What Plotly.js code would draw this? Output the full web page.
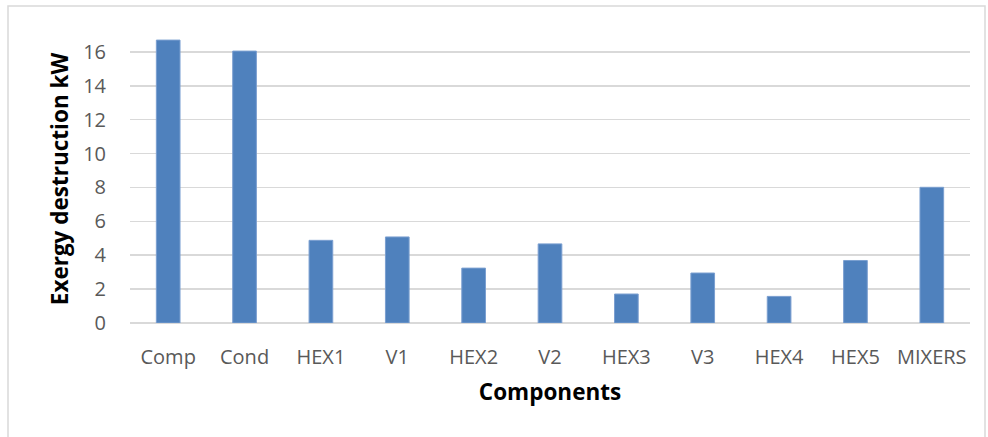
<!DOCTYPE html>
<html>
<head>
<meta charset="utf-8">
<script src="https://cdn.plot.ly/plotly-3.0.1.min.js"></script>
<style>
html,body{margin:0;padding:0;background:#fff;}
#chart{width:988px;height:437px;}
</style>
</head>
<body>
<div id="chart"></div>
<script>
const categories = ["Comp","Cond","HEX1","V1","HEX2","V2","HEX3","V3","HEX4","HEX5","MIXERS"];
const exergyDestruction = [16.7, 16.05, 4.88, 5.08, 3.24, 4.67, 1.71, 2.95, 1.57, 3.69, 8.01];
const yTicks = [0,2,4,6,8,10,12,14,16];

const FONT = "'Open Sans', Arial, sans-serif";

Plotly.newPlot('chart', [{
  type: 'bar',
  x: categories,
  y: exergyDestruction,
  marker: {color: '#4F81BD', line: {color: '#7B9FD0', width: 1}},
  hoverinfo: 'x+y'
}], {
  width: 988, height: 437,
  margin: {l: 130, r: 18, t: 35, b: 114},
  paper_bgcolor: '#ffffff',
  plot_bgcolor: '#ffffff',
  bargap: 0.69,
  showlegend: false,
  font: {family: FONT, color: '#595959', size: 20},
  xaxis: {
    type: 'category',
    tickfont: {family: FONT, size: 20, color: '#595959'},
    showgrid: false,
    showline: false,
    ticks: 'outside',
    ticklen: 16,
    tickcolor: 'rgba(0,0,0,0)',
    title: {text: 'Components', font: {family: FONT, size: 22.5, color: '#000000', weight: 'bold'}, standoff: 15}
  },
  yaxis: {
    range: [0, 17],
    tickvals: yTicks,
    ticktext: yTicks.map(String),
    tickfont: {family: FONT, size: 20, color: '#595959'},
    showgrid: true,
    gridcolor: '#D9D9D9',
    gridwidth: 1.5,
    zeroline: true,
    zerolinecolor: '#D9D9D9',
    zerolinewidth: 1.5,
    showline: false,
    ticks: 'outside',
    ticklen: 19,
    tickcolor: 'rgba(0,0,0,0)',
    title: {text: 'Exergy destruction kW', font: {family: FONT, size: 22.5, color: '#000000', weight: 'bold'}, standoff: 8}
  },
  shapes: [{
    type: 'rect', xref: 'paper', yref: 'paper',
    x0: -122/840, x1: 1 + 15/840, y0: -260/288, y1: 1 + 29/288,
    line: {color: '#D9D9D9', width: 1.5}, fillcolor: 'rgba(0,0,0,0)', layer: 'below'
  }]
}, {displayModeBar: false, staticPlot: true});
</script>
</body>
</html>
